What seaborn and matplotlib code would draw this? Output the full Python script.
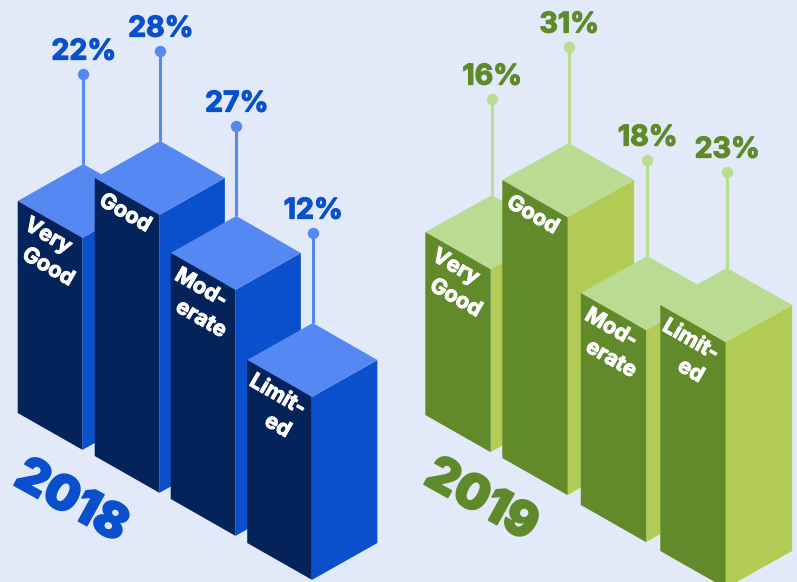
import matplotlib
matplotlib.use("Agg")
import matplotlib.pyplot as plt
import matplotlib.patheffects as pe
from matplotlib.transforms import Affine2D
import pandas as pd
import seaborn as sns

# Survey results per year
categories = ["Very Good", "Good", "Moderate", "Limited"]
wrapped_labels = [["Very", "Good"], ["Good"], ["Mod-", "erate"], ["Limit-", "ed"]]
values_2018 = [22, 28, 27, 12]
values_2019 = [16, 31, 18, 23]

# Column height follows the rank of the value within its year
RANK_HEIGHT = {1: 183, 2: 212, 3: 246, 4: 278}

# Isometric drawing parameters, in pixels
FACE_W = 65.0
RISE = 37.0
FONT = ["Inter", "DejaVu Sans"]

PANELS = [
    dict(year="2018", values=values_2018,
         left=[17.5, 94.5, 170.5, 247], ground=[413, 456, 499, 543], pin=90,
         front="#04235A", side="#0A50CC", top="#5688F3", ink="#0A50CC",
         year_pos=(71, 502)),
    dict(year="2019", values=values_2019,
         left=[425.5, 502.5, 581, 660.5], ground=[415, 458, 505, 551], pin=96,
         front="#618A2B", side="#B1CB54", top="#B9DC92", ink="#5F8A2B",
         year_pos=(481, 501)),
]

sns.set_theme(style="white")
plt.rcParams["font.family"] = FONT
BG = "#E2EAF9"

fig = plt.figure(figsize=(7.97, 5.82), dpi=100, facecolor=BG)
ax = fig.add_axes([0, 0, 1, 1], facecolor=BG)


def heavy(width, color):
    # Thicken a glyph outline with a stroke in its own colour
    return [pe.withStroke(linewidth=width, foreground=color)]


def draw_panel(ax, panel):
    df = pd.DataFrame({"category": categories, "value": panel["values"]})
    df["rank"] = df["value"].rank().astype(int)
    # Bars grow upward on a y axis that points down the page
    df["height"] = -df["rank"].map(RANK_HEIGHT)
    df["center"] = [x + FACE_W / 2 for x in panel["left"]]

    first = len(ax.patches)
    sns.barplot(data=df, x="center", y="height", orient="x", native_scale=True,
                color=panel["front"], saturation=1, linewidth=0,
                width=FACE_W / 76.5, ax=ax)
    bars = ax.patches[first:]

    slope = RISE / FACE_W
    for i, (bar, row) in enumerate(zip(bars, df.itertuples())):
        z = 10 + 10 * i + (0 if panel["year"] == "2018" else 100)
        x0 = bar.get_x()
        w = bar.get_width()
        ground = panel["ground"][i]
        ytop = ground + row.height

        # Shear the flat bar into the front face of the column
        shear = Affine2D.from_values(1, slope, 0, 1, 0, ground - slope * x0)
        bar.set_transform(shear + ax.transData)
        bar.set_zorder(z + 2)

        front_right = (x0 + w, ytop + RISE)
        right = (x0 + 2 * w + 1, ytop)
        apex = (x0 + w + 1, ytop - RISE)

        ax.fill([front_right[0], right[0], right[0], front_right[0]],
                [front_right[1], right[1], right[1] - row.height, front_right[1] - row.height],
                color=panel["side"], lw=0, zorder=z)
        ax.fill([x0, apex[0], right[0], front_right[0]],
                [ytop, apex[1], right[1], front_right[1]],
                color=panel["top"], lw=0, zorder=z + 1)

        # Lollipop pin with the percentage above it
        pin_top = apex[1] - panel["pin"]
        ax.plot([apex[0], apex[0]], [apex[1], pin_top], color=panel["top"], lw=2.2,
                solid_capstyle="butt", zorder=z - 1)
        ax.plot([apex[0]], [pin_top], "o", color=panel["top"], ms=8.2, mew=0, zorder=z - 1)
        ax.text(apex[0] + 0.5, pin_top - 22, f"{row.value}%", color=panel["ink"], fontsize=20.5,
                fontweight="bold", ha="center", va="center", zorder=z + 3,
                path_effects=heavy(0.9, panel["ink"]))

        # Category name follows the slant of the front face
        lines = wrapped_labels[i]
        for k, line in enumerate(lines):
            ax.text(x0 + 30.5, ytop + 35 + 31 * k, line, color="white", fontsize=15.5,
                    fontweight="bold", ha="center", va="center", rotation=-30,
                    rotation_mode="anchor", zorder=z + 3,
                    path_effects=heavy(0.7, "white"))

    ax.text(*panel["year_pos"], panel["year"], color=panel["ink"], fontsize=35,
            fontweight="black", ha="center", va="center", rotation=-29,
            rotation_mode="anchor", zorder=300,
            path_effects=heavy(1.2, panel["ink"]))


for panel in PANELS:
    draw_panel(ax, panel)

# One pixel per data unit, origin at the top left
ax.set_xlim(0, 797)
ax.set_ylim(582, 0)
ax.set_xlabel("")
ax.set_ylabel("")
ax.grid(False)
ax.set_axis_off()
fig.patch.set_facecolor(BG)

fig.savefig("out.png", dpi=100, facecolor=BG)
